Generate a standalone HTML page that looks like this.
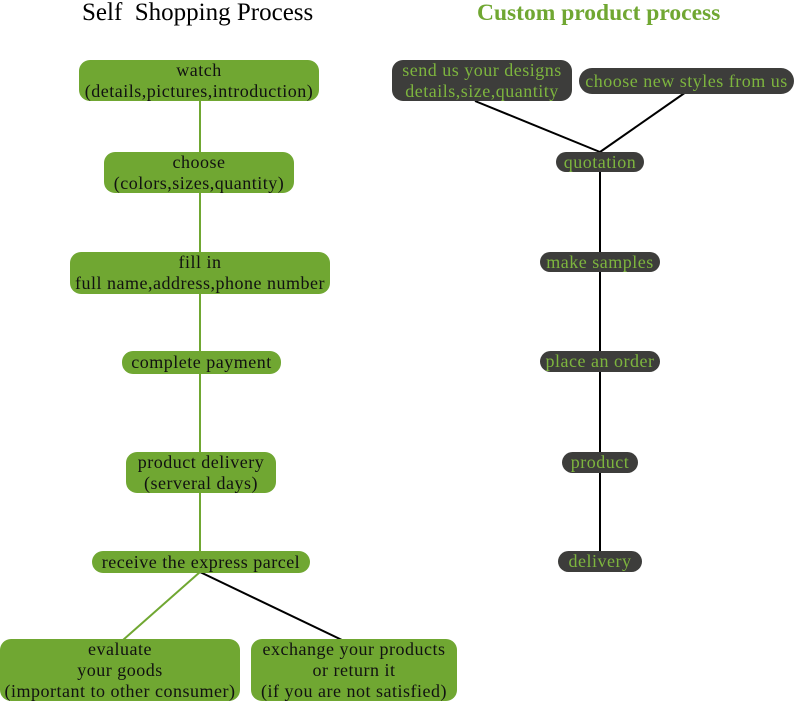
<!DOCTYPE html>
<html><head><style>
body{margin:0;width:800px;height:714px;background:#fff;position:relative;overflow:hidden;font-family:"Liberation Serif",serif;}
.b{position:absolute;display:flex;align-items:center;justify-content:center;text-align:center;font-size:18px;letter-spacing:0.5px;line-height:21px;box-sizing:border-box;white-space:nowrap;}
.g{background:#70a732;color:#111;border-radius:11px;}
.d{background:#3d3d3b;color:#7db53e;border-radius:11px;}
.t{position:absolute;font-size:25px;white-space:nowrap;}
</style></head><body>
<svg width="800" height="714" style="position:absolute;left:0;top:0">
<line x1="200" y1="100" x2="200" y2="552" stroke="#70a732" stroke-width="2"/>
<line x1="200" y1="572" x2="123" y2="640" stroke="#70a732" stroke-width="2"/>
<line x1="200" y1="572" x2="342" y2="640" stroke="#000" stroke-width="2"/>
<line x1="475" y1="101" x2="600" y2="152" stroke="#000" stroke-width="2"/>
<line x1="686" y1="92" x2="600" y2="152" stroke="#000" stroke-width="2"/>
<line x1="600" y1="170" x2="600" y2="552" stroke="#000" stroke-width="2"/>
</svg>
<div class="t" style="left:82px;top:-1px;">Self&nbsp; Shopping Process</div>
<div class="t" style="left:477px;top:0px;color:#70a732;font-weight:bold;font-size:23.5px;">Custom product process</div>
<div class="b g" style="left:79px;top:60px;width:240px;height:41px;">watch<br>(details,pictures,introduction)</div>
<div class="b g" style="left:104px;top:152px;width:190px;height:41px;">choose<br>(colors,sizes,quantity)</div>
<div class="b g" style="left:70px;top:252px;width:260px;height:42px;">fill in<br>full name,address,phone number</div>
<div class="b g" style="left:122px;top:351px;width:159px;height:23px;">complete payment</div>
<div class="b g" style="left:126px;top:452px;width:150px;height:41px;">product delivery<br>(serveral days)</div>
<div class="b g" style="left:92px;top:551px;width:218px;height:22px;">receive the express parcel</div>
<div class="b g" style="left:0px;top:639px;width:240px;height:62px;">evaluate<br>your goods<br>(important to other consumer)</div>
<div class="b g" style="left:251px;top:639px;width:206px;height:62px;">exchange your products<br>or return it<br>(if you are not satisfied)</div>
<div class="b d" style="left:392px;top:60px;width:180px;height:41px;">send us your designs<br>details,size,quantity</div>
<div class="b d" style="left:579px;top:68px;width:215px;height:26px;border-radius:13px;">choose new styles from us</div>
<div class="b d" style="left:556px;top:152px;width:88px;height:20px;">quotation</div>
<div class="b d" style="left:540px;top:252px;width:120px;height:20px;">make samples</div>
<div class="b d" style="left:540px;top:351px;width:120px;height:21px;">place an order</div>
<div class="b d" style="left:562px;top:452px;width:76px;height:21px;">product</div>
<div class="b d" style="left:558px;top:551px;width:84px;height:21px;">delivery</div>
</body></html>
